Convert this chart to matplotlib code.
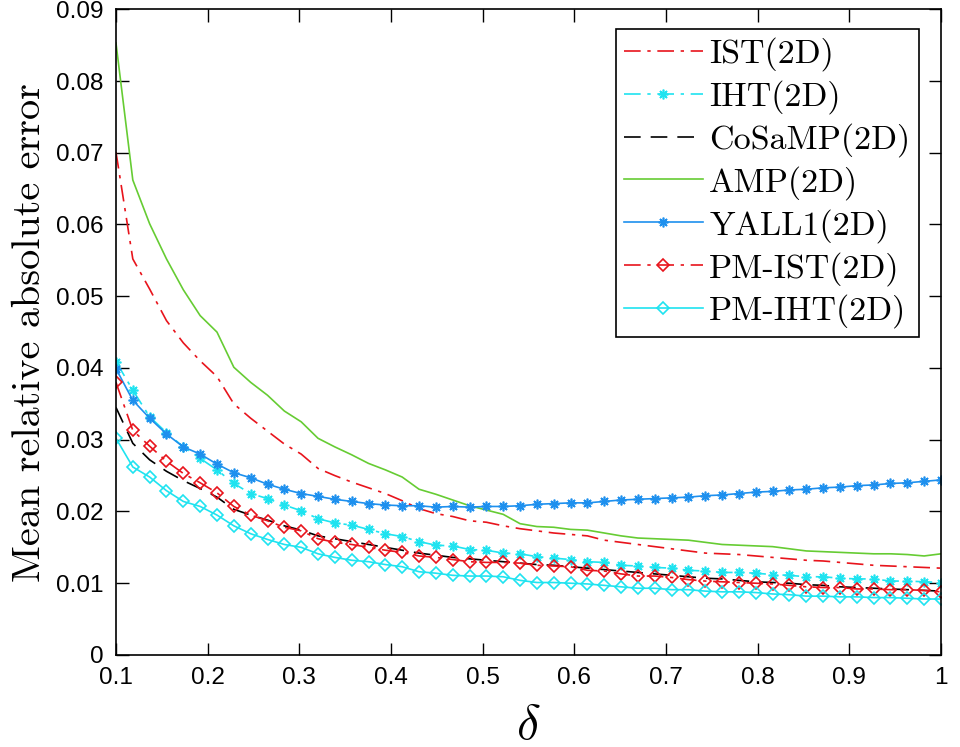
import numpy as np
import matplotlib
matplotlib.use("Agg")
import matplotlib.pyplot as plt

# sampling ratio delta (50 points between 0.1 and 1)
delta = np.linspace(0.1, 1.0, 50)

ist = [0.0701, 0.0552, 0.0510, 0.0466, 0.0435, 0.0410, 0.0388, 0.0350, 0.0330, 0.0312,
       0.0294, 0.0280, 0.0260, 0.0250, 0.0241, 0.0233, 0.0225, 0.0215, 0.0204, 0.0197,
       0.0193, 0.0187, 0.0185, 0.0180, 0.0176, 0.0173, 0.0170, 0.0168, 0.0166, 0.0160,
       0.0157, 0.0154, 0.0151, 0.0148, 0.0145, 0.0142, 0.0141, 0.0140, 0.0138, 0.0136,
       0.0134, 0.0132, 0.0131, 0.0129, 0.0127, 0.0125, 0.0124, 0.0123, 0.0122, 0.0121]
iht = [0.0409, 0.0369, 0.0332, 0.0310, 0.0290, 0.0274, 0.0258, 0.0239, 0.0225, 0.0218,
       0.0209, 0.0201, 0.0190, 0.0184, 0.0181, 0.0175, 0.0169, 0.0165, 0.0158, 0.0153,
       0.0152, 0.0147, 0.0146, 0.0142, 0.0141, 0.0137, 0.0135, 0.0133, 0.0130, 0.0129,
       0.0125, 0.0124, 0.0122, 0.0121, 0.0118, 0.0117, 0.0115, 0.0115, 0.0114, 0.0112,
       0.0111, 0.0109, 0.0109, 0.0107, 0.0106, 0.0106, 0.0103, 0.0103, 0.0102, 0.0101]
cosamp = [0.0345, 0.0295, 0.0272, 0.0256, 0.0243, 0.0232, 0.0220, 0.0203, 0.0195, 0.0188,
          0.0180, 0.0174, 0.0166, 0.0162, 0.0158, 0.0154, 0.0150, 0.0146, 0.0142, 0.0139,
          0.0136, 0.0134, 0.0132, 0.0130, 0.0128, 0.0126, 0.0125, 0.0123, 0.0121, 0.0119,
          0.0117, 0.0115, 0.0113, 0.0111, 0.0109, 0.0107, 0.0106, 0.0104, 0.0102, 0.0101,
          0.0100, 0.0098, 0.0097, 0.0095, 0.0094, 0.0093, 0.0092, 0.0091, 0.0090, 0.0089]
amp = [0.0853, 0.0662, 0.0601, 0.0552, 0.0509, 0.0473, 0.0450, 0.0401, 0.0380, 0.0362,
       0.0340, 0.0325, 0.0302, 0.0290, 0.0279, 0.0267, 0.0258, 0.0248, 0.0231, 0.0224,
       0.0216, 0.0208, 0.0202, 0.0196, 0.0183, 0.0179, 0.0178, 0.0175, 0.0174, 0.0170,
       0.0166, 0.0163, 0.0162, 0.0161, 0.0160, 0.0157, 0.0154, 0.0153, 0.0152, 0.0151,
       0.0148, 0.0145, 0.0144, 0.0143, 0.0142, 0.0141, 0.0141, 0.0140, 0.0138, 0.0141]
yall1 = [0.0399, 0.0355, 0.0330, 0.0308, 0.0290, 0.0280, 0.0266, 0.0254, 0.0247, 0.0238,
         0.0231, 0.0225, 0.0221, 0.0217, 0.0214, 0.0211, 0.0209, 0.0208, 0.0208, 0.0206,
         0.0207, 0.0206, 0.0207, 0.0207, 0.0208, 0.0210, 0.0211, 0.0212, 0.0212, 0.0214,
         0.0216, 0.0217, 0.0218, 0.0219, 0.0220, 0.0222, 0.0223, 0.0225, 0.0227, 0.0228,
         0.0230, 0.0231, 0.0233, 0.0234, 0.0236, 0.0237, 0.0239, 0.0240, 0.0242, 0.0244]
pm_ist = [0.0380, 0.0313, 0.0291, 0.0270, 0.0253, 0.0240, 0.0226, 0.0207, 0.0195, 0.0187,
          0.0178, 0.0173, 0.0162, 0.0157, 0.0154, 0.0150, 0.0146, 0.0143, 0.0138, 0.0136,
          0.0133, 0.0130, 0.0129, 0.0129, 0.0128, 0.0125, 0.0124, 0.0123, 0.0118, 0.0117,
          0.0113, 0.0110, 0.0110, 0.0108, 0.0105, 0.0103, 0.0102, 0.0101, 0.0100, 0.0099,
          0.0097, 0.0095, 0.0094, 0.0094, 0.0092, 0.0092, 0.0091, 0.0091, 0.0090, 0.0088]
pm_iht = [0.0302, 0.0262, 0.0248, 0.0229, 0.0214, 0.0207, 0.0195, 0.0180, 0.0169, 0.0161,
          0.0154, 0.0150, 0.0141, 0.0136, 0.0132, 0.0130, 0.0126, 0.0123, 0.0116, 0.0114,
          0.0111, 0.0110, 0.0110, 0.0109, 0.0104, 0.0101, 0.0101, 0.0100, 0.0099, 0.0097,
          0.0095, 0.0093, 0.0093, 0.0091, 0.0091, 0.0089, 0.0088, 0.0088, 0.0087, 0.0085,
          0.0084, 0.0082, 0.0082, 0.0081, 0.0081, 0.0080, 0.0080, 0.0079, 0.0078, 0.0078]

xtick_labels = ['0.1', '0.2', '0.3', '0.4', '0.5', '0.6', '0.7', '0.8', '0.9', '1']
ytick_labels = ['0', '0.01', '0.02', '0.03', '0.04', '0.05', '0.06', '0.07', '0.08', '0.09']

red = '#e8141c'
cyan = '#1fe3f0'
blue = '#1e90ee'
green = '#66cc33'
dashdot = (0, (10, 4, 2, 4))
asterisk = (8, 2, 0)

plt.rcParams['mathtext.fontset'] = 'cm'
plt.rcParams['axes.unicode_minus'] = False

fig = plt.figure(figsize=(9.6, 7.47), dpi=100)
ax = fig.add_axes([0.1208, 0.1232, 0.8594, 0.8644])

lw = 1.2
ax.plot(delta, ist, color=red, lw=lw, ls=dashdot, label='IST(2D)')
ax.plot(delta, iht, color=cyan, lw=lw, ls=dashdot, marker=asterisk, ms=7, mew=1.2,
        label='IHT(2D)')
ax.plot(delta, cosamp, color='black', lw=lw, ls=(0, (10, 6)), label='CoSaMP(2D)')
ax.plot(delta, amp, color=green, lw=lw, ls='-', label='AMP(2D)')
ax.plot(delta, yall1, color=blue, lw=lw, ls='-', marker=asterisk, ms=7, mew=1.2,
        label='YALL1(2D)')
ax.plot(delta, pm_ist, color=red, lw=lw, ls=dashdot, marker='D', ms=5.8, mew=1.2,
        mfc='none', label='PM-IST(2D)')
ax.plot(delta, pm_iht, color=cyan, lw=lw, ls='-', marker='D', ms=5.8, mew=1.2,
        mfc='none', label='PM-IHT(2D)')

ax.set_xlim(0.1, 1.0)
ax.set_ylim(0, 0.09)
ax.set_xticks(np.arange(0.1, 1.01, 0.1))
ax.set_xticklabels(xtick_labels, fontsize=17.5, family='Liberation Sans')
ax.set_yticks(np.arange(0, 0.091, 0.01))
ax.set_yticklabels(ytick_labels, fontsize=17.5, family='Liberation Sans')
ax.tick_params(direction='in', length=9, width=1, top=True, right=True)
ax.tick_params(axis='y', pad=9)
ax.tick_params(axis='x', pad=9)
for sp in ax.spines.values():
    sp.set_linewidth(1.2)

ax.set_ylabel('Mean relative absolute error', family='cmr10', fontsize=29, labelpad=6)
ax.set_xlabel(r'$\delta$', fontsize=36, labelpad=8)

leg = ax.legend(loc='upper right', bbox_to_anchor=(0.9733, 0.9695), borderaxespad=0,
                prop={'family': 'cmr10', 'size': 24.5}, fancybox=False, framealpha=1,
                edgecolor='black', handlelength=2.3, handletextpad=0.2,
                labelspacing=0.26, borderpad=0.25, numpoints=1)
leg.get_frame().set_linewidth(1.2)

fig.savefig('out.png', dpi=100)
